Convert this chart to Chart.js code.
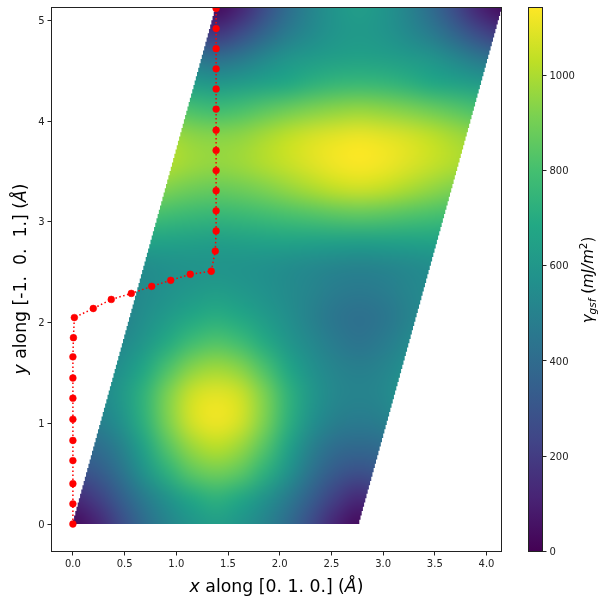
<!DOCTYPE html>
<html>
<head>
<meta charset="utf-8">
<style>
html,body{margin:0;padding:0;background:#fff;width:608px;height:605px;overflow:hidden}
canvas{position:absolute;left:0;top:0}
</style>
<script src="https://cdn.jsdelivr.net/npm/chart.js@4"></script>
</head>
<body>
<canvas id="main" width="608" height="605"></canvas>
<canvas id="bar" width="608" height="605"></canvas>
<script>
const pathX = [0,0,0,0,0,0,0,0,0,0.005,0.014,0.197,0.371,0.565,0.762,0.946,1.135,1.338,1.377,1.385,1.385,1.385,1.385,1.385,1.385,1.385,1.385,1.385,1.385,1.385,1.385];
const pathY = [0,0.20,0.40,0.63,0.83,1.04,1.25,1.45,1.66,1.85,2.05,2.14,2.23,2.29,2.36,2.42,2.48,2.51,2.71,2.91,3.11,3.31,3.51,3.71,3.91,4.12,4.32,4.52,4.72,4.92,5.12];

const gridXStep = 0.2308;
const gridYStep = 0.2565;
const shearX = 1.385;
const periodX = 2.77;
const colorMax = 1142;
const edgeSteps = 120;

const gammaRows = [
[ 30,110,260,400,510,590,630,590,510,400,260,110, 30,110,260,400,510,590,630],
[130,210,340,470,580,680,730,680,580,470,340,210,130,210,340,470,580,680,730],
[280,320,430,580,730,850,895,850,730,580,430,320,280,320,430,580,730,850,895],
[390,405,500,660,840,970,1025,970,840,660,500,405,390,405,500,660,840,970,1025],
[470,490,570,730,920,1070,1120,1070,920,730,570,490,470,490,570,730,920,1070,1120],
[505,525,600,740,920,1060,1100,1060,920,740,600,525,505,525,600,740,920,1060,1100],
[490,510,570,680,820,940,980,940,820,680,570,510,490,510,570,680,820,940,980],
[440,470,530,600,700,790,830,790,700,600,530,470,440,470,530,600,700,790,830],
[420,445,500,560,620,680,710,680,620,560,500,445,420,445,500,560,620,680,710],
[460,475,510,545,575,605,625,605,575,545,510,475,460,475,510,545,575,605,625],
[505,515,535,555,570,580,585,580,570,555,535,515,505,515,535,555,570,580,585],
[650,655,660,665,660,650,640,650,660,665,660,655,650,655,660,665,660,650,640],
[860,850,830,810,790,770,760,770,790,810,830,850,860,850,830,810,790,770,760],
[1060,1040,1000,960,920,890,875,890,920,960,1000,1040,1060,1040,1000,960,920,890,875],
[1140,1125,1090,1050,1010,975,960,975,1010,1050,1090,1125,1140,1125,1090,1050,1010,975,960],
[1115,1100,1075,1035,990,950,935,950,990,1035,1075,1100,1115,1100,1075,1035,990,950,935],
[965,950,925,890,850,810,790,810,850,890,925,950,965,950,925,890,850,810,790],
[770,760,730,690,660,630,610,630,660,690,730,760,770,760,730,690,660,630,610],
[650,640,620,590,530,460,420,460,530,590,620,640,650,640,620,590,530,460,420],
[610,590,540,470,370,260,180,260,370,470,540,590,610,590,540,470,370,260,180],
[630,590,510,400,260,110, 30,110,260,400,510,590,630,590,510,400,260,110, 30]
];

const viridis = [[68,1,84],[72,36,117],[65,68,135],[53,95,141],[42,120,142],[33,145,140],[34,168,132],[68,191,112],[122,209,81],[189,223,38],[253,231,37]];

const FONT = "'DejaVu Sans'";

function colourAt(v){
  const t = Math.max(0,Math.min(1,v/colorMax))*(viridis.length-1);
  const i = Math.min(viridis.length-2,Math.floor(t)), f = t-i;
  const a = viridis[i], b = viridis[i+1];
  return [0,1,2].map(k=>Math.round(a[k]+(b[k]-a[k])*f));
}

function drawSegments(ctx,segs,cx,cy,rot){
  ctx.save();
  ctx.translate(cx,cy);
  ctx.rotate(rot);
  ctx.textBaseline='alphabetic';
  ctx.textAlign='left';
  ctx.fillStyle='#000';
  let w=0;
  for(const s of segs){ctx.font=s.font;w+=ctx.measureText(s.t).width;}
  let x=-w/2;
  for(const s of segs){
    ctx.font=s.font;
    ctx.fillText(s.t,x,s.dy||0);
    x+=ctx.measureText(s.t).width;
  }
  ctx.restore();
}

const heatmapPlugin = {
  id:'heatmap',
  beforeDatasetsDraw(chart){
    const {ctx,scales:{x,y}} = chart;
    const rows = gammaRows.length, cols = gammaRows[0].length;
    const off = document.createElement('canvas');
    off.width = cols; off.height = rows;
    const octx = off.getContext('2d');
    const img = octx.createImageData(cols,rows);
    gammaRows.forEach((row,r)=>row.forEach((v,c)=>{
      const k = ((rows-1-r)*cols+c)*4, col = colourAt(v);
      img.data[k]=col[0];img.data[k+1]=col[1];img.data[k+2]=col[2];img.data[k+3]=255;
    }));
    octx.putImageData(img,0,0);
    const yTop = gridYStep*(rows-1), xEnd = gridXStep*(cols-1);
    ctx.save();
    ctx.beginPath();
    ctx.rect(chart.chartArea.left,chart.chartArea.top,chart.chartArea.right-chart.chartArea.left,chart.chartArea.bottom-chart.chartArea.top);
    ctx.clip();
    // staircase outline of the sheared cell grid
    ctx.beginPath();
    ctx.moveTo(x.getPixelForValue(0),y.getPixelForValue(0));
    for(let i=0;i<edgeSteps;i++){
      const yA=yTop*i/edgeSteps, yB=yTop*(i+1)/edgeSteps, xE=periodX+shearX*i/edgeSteps;
      ctx.lineTo(x.getPixelForValue(xE),y.getPixelForValue(yA));
      ctx.lineTo(x.getPixelForValue(xE),y.getPixelForValue(yB));
    }
    for(let i=edgeSteps-1;i>=0;i--){
      const yA=yTop*i/edgeSteps, yB=yTop*(i+1)/edgeSteps, xE=shearX*i/edgeSteps;
      ctx.lineTo(x.getPixelForValue(xE),y.getPixelForValue(yB));
      ctx.lineTo(x.getPixelForValue(xE),y.getPixelForValue(yA));
    }
    ctx.closePath();
    ctx.clip();
    ctx.imageSmoothingEnabled = true;
    ctx.imageSmoothingQuality = 'high';
    const px0=x.getPixelForValue(0), px1=x.getPixelForValue(xEnd), py0=y.getPixelForValue(yTop), py1=y.getPixelForValue(0);
    ctx.drawImage(off,0.5,0.5,cols-1,rows-1,px0,py0,px1-px0,py1-py0);
    ctx.restore();
  },
  afterDraw(chart){
    const {ctx,chartArea:a} = chart;
    ctx.save();
    ctx.strokeStyle='#222';
    ctx.lineWidth=1;
    ctx.strokeRect(a.left,a.top,a.right-a.left,a.bottom-a.top);
    ctx.restore();
    const reg="17.3px "+FONT, it="italic 17.3px "+FONT;
    drawSegments(ctx,[{t:'x',font:it},{t:' along [0. 1. 0.] (',font:reg},{t:'Å',font:it},{t:')',font:reg}],276.5,592,0);
    drawSegments(ctx,[{t:'y',font:it},{t:' along [-1.  0.  1.] (',font:reg},{t:'Å',font:it},{t:')',font:reg}],26,279,-Math.PI/2);
  }
};

const barPlugin = {
  id:'colourbar',
  beforeDatasetsDraw(chart){
    const {ctx,chartArea:a,scales:{y}} = chart;
    const g = ctx.createLinearGradient(0,y.getPixelForValue(0),0,y.getPixelForValue(colorMax));
    viridis.forEach((c,i)=>g.addColorStop(i/(viridis.length-1),`rgb(${c[0]},${c[1]},${c[2]})`));
    ctx.fillStyle=g;
    ctx.fillRect(a.left,a.top,a.right-a.left,a.bottom-a.top);
  },
  afterDraw(chart){
    const {ctx,chartArea:a} = chart;
    ctx.save();
    ctx.strokeStyle='#222';
    ctx.lineWidth=1;
    ctx.strokeRect(a.left,a.top,a.right-a.left,a.bottom-a.top);
    ctx.restore();
    const it="italic 15px "+FONT, reg="15px "+FONT, sub="italic 10.5px "+FONT;
    drawSegments(ctx,[{t:'γ',font:it},{t:'gsf',font:sub,dy:2.5},{t:' (',font:reg},{t:'mJ/m',font:it},{t:'2',font:"10.5px "+FONT,dy:-6},{t:')',font:reg}],593,280,-Math.PI/2);
  }
};

const tickFont = {family:FONT,size:10};
function noPad(s){s.paddingTop=0;s.paddingBottom=0;s.paddingLeft=0;s.paddingRight=0;}

new Chart(document.getElementById('main'),{
  type:'scatter',
  data:{datasets:[{
    data:pathX.map((v,i)=>({x:v,y:pathY[i]})),
    showLine:true,
    borderColor:'#ff0000',
    backgroundColor:'#ff0000',
    borderWidth:1.5,
    borderDash:[1.5,2.5],
    tension:0,
    pointRadius:3.4,
    pointBackgroundColor:'#ff0000',
    pointBorderColor:'#ff0000',
    pointBorderWidth:0.5,
    pointHoverRadius:3.4
  }]},
  options:{
    responsive:false,
    animation:false,
    devicePixelRatio:1,
    events:[],
    layout:{padding:{left:0,right:106.5,top:7.5,bottom:0}},
    plugins:{legend:{display:false},tooltip:{enabled:false},title:{display:false}},
    scales:{
      x:{
        type:'linear',min:-0.207,max:4.145,
        afterFit(s){s.height=53.5;noPad(s);},
        border:{display:false},
        grid:{drawOnChartArea:false,drawTicks:true,tickLength:4,tickColor:'#222',tickWidth:1},
        ticks:{stepSize:0.5,includeBounds:false,color:'#222',font:tickFont,padding:3,maxRotation:0,autoSkip:false,callback:v=>Number(v).toFixed(1)}
      },
      y:{
        type:'linear',min:-0.273,max:5.129,
        afterFit(s){s.width=51.5;noPad(s);},
        border:{display:false},
        grid:{drawOnChartArea:false,drawTicks:true,tickLength:4,tickColor:'#222',tickWidth:1},
        ticks:{stepSize:1,includeBounds:false,color:'#222',font:tickFont,padding:3,labelOffset:1,autoSkip:false,callback:v=>String(Math.round(v))}
      }
    }
  },
  plugins:[heatmapPlugin]
});

new Chart(document.getElementById('bar'),{
  type:'scatter',
  data:{datasets:[{data:[]}]},
  options:{
    responsive:false,
    animation:false,
    devicePixelRatio:1,
    events:[],
    layout:{padding:{left:528.5,right:0,top:7.5,bottom:53.5}},
    plugins:{legend:{display:false},tooltip:{enabled:false},title:{display:false}},
    scales:{
      x:{type:'linear',display:false,min:0,max:1},
      y:{
        type:'linear',position:'right',min:0,max:colorMax,
        afterFit(s){s.width=65.5;noPad(s);},
        border:{display:false},
        grid:{drawOnChartArea:false,drawTicks:true,tickLength:4,tickColor:'#222',tickWidth:1},
        ticks:{stepSize:200,includeBounds:false,color:'#222',font:tickFont,padding:3,labelOffset:1,autoSkip:false,callback:v=>String(v)}
      }
    }
  },
  plugins:[barPlugin]
});
</script>
</body>
</html>
